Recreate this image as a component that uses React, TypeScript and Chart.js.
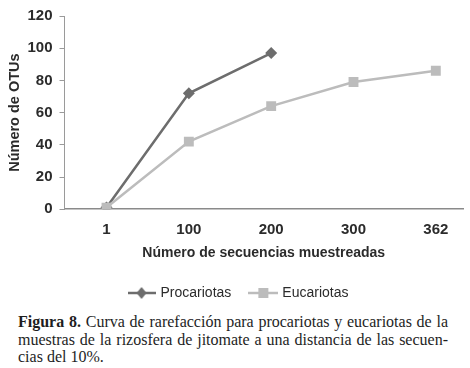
import React, { useEffect, useRef } from "react";
import { Chart, registerables } from "chart.js";

Chart.register(...registerables);

const categories = ["1", "100", "200", "300", "362"];
const procariotas = [1, 72, 97];
const eucariotas = [1, 42, 64, 79, 86];
const yTicks = [0, 20, 40, 60, 80, 100, 120];

const PRO_COLOR = "#6d6d6d";
const EUC_COLOR = "#bcbcbc";
const TEXT = "#2b2b2b";
const SANS = "'Liberation Sans', Arial, sans-serif";

function legendImage(color: string, style: "diamond" | "square", w: number): HTMLCanvasElement {
  const c = document.createElement("canvas");
  c.width = w;
  c.height = 14;
  const ctx = c.getContext("2d")!;
  ctx.strokeStyle = color;
  ctx.lineWidth = 2.5;
  ctx.beginPath();
  ctx.moveTo(0, 7);
  ctx.lineTo(w, 7);
  ctx.stroke();
  ctx.fillStyle = color;
  const cx = w / 2;
  if (style === "diamond") {
    ctx.beginPath();
    ctx.moveTo(cx, 1);
    ctx.lineTo(cx + 5, 7);
    ctx.lineTo(cx, 13);
    ctx.lineTo(cx - 5, 7);
    ctx.closePath();
    ctx.fill();
  } else {
    ctx.fillRect(cx - 5, 2, 10, 10);
  }
  return c;
}

export default function App() {
  const ref = useRef<HTMLCanvasElement | null>(null);

  useEffect(() => {
    if (!ref.current) return;
    const proImg = legendImage(PRO_COLOR, "diamond", 28);
    const eucImg = legendImage(EUC_COLOR, "square", 30);
    const chart = new Chart(ref.current, {
      type: "line",
      data: {
        datasets: [
          {
            label: "Procariotas",
            data: procariotas.map((y, i) => ({ x: i, y })),
            borderColor: PRO_COLOR,
            backgroundColor: PRO_COLOR,
            borderWidth: 2.5,
            pointStyle: "rectRot",
            pointRadius: 6,
            pointBorderWidth: 0,
            order: 1,
          },
          {
            label: "Eucariotas",
            data: eucariotas.map((y, i) => ({ x: i, y })),
            borderColor: EUC_COLOR,
            backgroundColor: EUC_COLOR,
            borderWidth: 2.5,
            pointStyle: "rect",
            pointRadius: 7,
            pointBorderWidth: 0,
            order: 0,
          },
        ],
      },
      options: {
        animation: false,
        responsive: false,
        layout: { padding: { top: 1, right: 0, left: 8, bottom: 0 } },
        plugins: {
          tooltip: { enabled: false },
          legend: {
            position: "bottom",
            labels: {
              usePointStyle: true,
              pointStyleWidth: 24,
              color: TEXT,
              font: { family: SANS, size: 14 },
              padding: 20,
              generateLabels: () => [
                { text: "Procariotas", pointStyle: proImg, datasetIndex: 0, fillStyle: PRO_COLOR, strokeStyle: PRO_COLOR, lineWidth: 0, fontColor: TEXT } as any,
                { text: "Eucariotas", pointStyle: eucImg, datasetIndex: 1, fillStyle: EUC_COLOR, strokeStyle: EUC_COLOR, lineWidth: 0, fontColor: TEXT } as any,
              ],
            },
          },
        },
        scales: {
          x: {
            type: "linear",
            min: -0.51,
            max: 4.33,
            afterBuildTicks: (scale: any) => {
              scale.ticks = categories.map((_, i) => ({ value: i }));
            },
            ticks: {
              color: TEXT,
              font: { family: SANS, size: 15, weight: "bold" },
              padding: 12,
              autoSkip: false,
              maxRotation: 0,
              callback: (v: any) => categories[v as number] ?? "",
            },
            grid: { display: true, drawOnChartArea: false, drawTicks: false, color: "#8a8a8a" },
            border: { display: true, color: "#8a8a8a", width: 1.5 },
            title: {
              display: true,
              text: "Número de secuencias muestreadas",
              color: TEXT,
              font: { family: SANS, size: 14, weight: "bold" },
              padding: { top: -6, bottom: 4 },
            },
          },
          y: {
            min: 0,
            max: 120,
            afterBuildTicks: (scale: any) => {
              scale.ticks = yTicks.map((v) => ({ value: v }));
            },
            ticks: {
              color: TEXT,
              font: { family: SANS, size: 15, weight: "bold" },
              padding: 7,
            },
            grid: { display: true, drawOnChartArea: false, drawTicks: true, tickLength: 5, color: "#9a9a9a" },
            border: { display: true, color: "#9a9a9a", width: 1 },
            title: {
              display: true,
              text: "Número de OTUs",
              color: TEXT,
              font: { family: SANS, size: 14.5, weight: "bold", lineHeight: 1 },
              padding: { top: 0, bottom: -2 },
            },
          },
        },
      },
    });
    return () => chart.destroy();
  }, []);

  const lineStyle: React.CSSProperties = {
    textAlign: "justify",
    textAlignLast: "justify" as any,
    whiteSpace: "nowrap",
  };

  return (
    <div style={{ position: "absolute", left: 0, top: 0, width: 470, height: 368, background: "#fff" }}>
      <canvas ref={ref} width={470} height={310} style={{ display: "block", width: 470, height: 310 }} />
      <div
        style={{
          position: "absolute",
          left: 18,
          top: 313,
          width: 430,
          fontFamily: "'Liberation Serif', 'Times New Roman', serif",
          fontSize: 16,
          lineHeight: "17.5px",
          color: "#1e1e1e",
        }}
      >
        <div style={lineStyle}>
          <b>Figura 8.</b> Curva de rarefacción para procariotas y eucariotas de la
        </div>
        <div style={lineStyle}>muestras de la rizosfera de jitomate a una distancia de las secuen-</div>
        <div>cias del 10%.</div>
      </div>
    </div>
  );
}
